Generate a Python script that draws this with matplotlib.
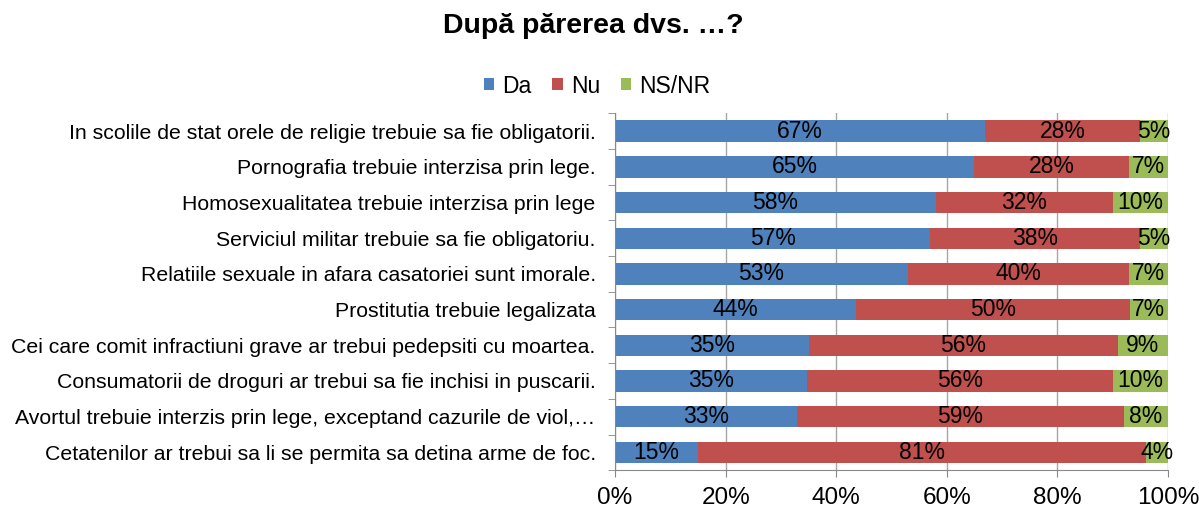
import matplotlib.pyplot as plt
import numpy as np

plt.rcParams['font.family'] = ['Liberation Sans', 'DejaVu Sans']

categories = [
    'In scolile de stat orele de religie trebuie sa fie obligatorii.',
    'Pornografia trebuie interzisa prin lege.',
    'Homosexualitatea trebuie interzisa prin lege',
    'Serviciul militar trebuie sa fie obligatoriu.',
    'Relatiile sexuale in afara casatoriei sunt imorale.',
    'Prostitutia trebuie legalizata',
    'Cei care comit infractiuni grave ar trebui pedepsiti cu moartea.',
    'Consumatorii de droguri ar trebui sa fie inchisi in puscarii.',
    'Avortul trebuie interzis prin lege, exceptand cazurile de viol,\u2026',
    'Cetatenilor ar trebui sa li se permita sa detina arme de foc.',
]
da = [67, 65, 58, 57, 53, 44, 35, 35, 33, 15]
nu = [28, 28, 32, 38, 40, 50, 56, 56, 59, 81]
nsnr = [5, 7, 10, 5, 7, 7, 9, 10, 8, 4]
series = ['Da', 'Nu', 'NS/NR']
colors = ['#4F81BD', '#C0504D', '#9BBB59']

vals = np.array([da, nu, nsnr], dtype=float)
shares = vals / vals.sum(axis=0)

fig = plt.figure(figsize=(11.99, 5.15), dpi=100)
ax = fig.add_axes([0.513, 0.087, 0.461, 0.693])

y = np.arange(len(categories))
left = np.zeros(len(categories))
for i, name in enumerate(series):
    ax.barh(y, shares[i], left=left, height=0.6, color=colors[i], label=name, zorder=2)
    for j in range(len(categories)):
        ax.text(left[j] + shares[i][j] / 2, y[j], f'{int(vals[i][j])}%',
                ha='center', va='center', fontsize=16.5, color='black', zorder=3)
    left += shares[i]

ax.set_xlim(0, 1)
ax.set_ylim(len(categories) - 0.5, -0.5)
ax.set_xticks(np.linspace(0, 1, 6))
ax.set_xticklabels([f'{int(t)}%' for t in np.linspace(0, 100, 6)], fontsize=17.5)
ax.set_yticks(y)
ax.set_yticklabels(categories, fontsize=15.3)
ax.set_yticks(np.arange(-0.5, len(categories), 1), minor=True)
ax.tick_params(axis='y', which='major', length=0, pad=14)
ax.tick_params(axis='y', which='minor', length=5, color='#888888')
ax.tick_params(axis='x', length=5, color='#888888', pad=7)
ax.grid(axis='x', color='#A6A6A6', linewidth=1, zorder=0)
for side in ['top', 'right']:
    ax.spines[side].set_visible(False)
ax.spines['left'].set_color('#888888')
ax.spines['bottom'].set_color('#888888')

fig.suptitle('După părerea dvs. …?', x=0.495, y=0.975, fontsize=20.5, fontweight='bold')
fig.legend(loc='center', bbox_to_anchor=(0.498, 0.833), ncol=3, frameon=False,
           fontsize=16.5, handlelength=0.45, handleheight=0.45, handletextpad=0.35,
           columnspacing=0.9)

fig.savefig('out.png', dpi=100)
